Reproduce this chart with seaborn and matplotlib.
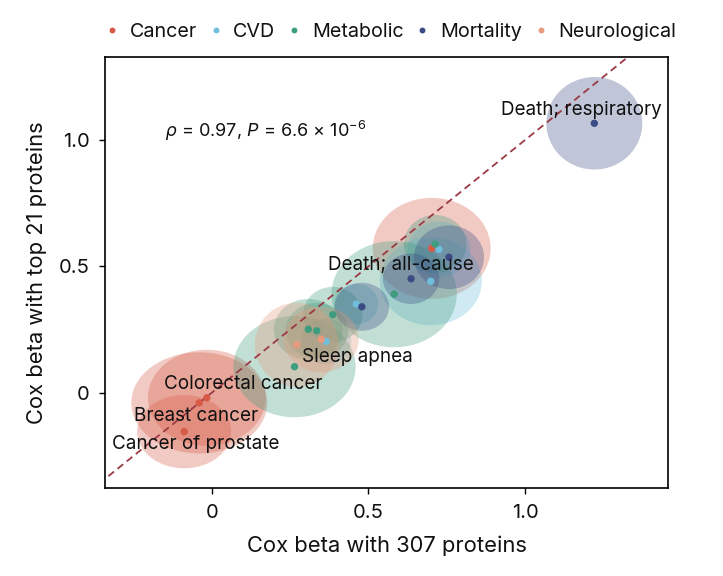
import numpy as np
import pandas as pd
import matplotlib
matplotlib.use("Agg")
import matplotlib.pyplot as plt
from matplotlib.patches import Ellipse
import seaborn as sns

# datos
categoria = ["Cancer", "Cancer", "Cancer", "Cancer",
             "CVD", "CVD", "CVD", "CVD",
             "Metabolic", "Metabolic", "Metabolic", "Metabolic", "Metabolic", "Metabolic",
             "Mortality", "Mortality", "Mortality", "Mortality",
             "Neurological", "Neurological"]
beta_307 = [-0.088, -0.040, -0.016, 0.702,
            0.461, 0.365, 0.699, 0.725,
            0.264, 0.308, 0.335, 0.386, 0.582, 0.713,
            0.479, 0.636, 0.757, 1.221,
            0.271, 0.349]
beta_21 = [-0.154, -0.040, -0.020, 0.571,
           0.351, 0.203, 0.441, 0.567,
           0.103, 0.251, 0.245, 0.309, 0.390, 0.588,
           0.340, 0.451, 0.536, 1.066,
           0.190, 0.211]
# semiejes de las burbujas (incertidumbre)
se_307 = [0.150, 0.217, 0.188, 0.188,
          0.070, 0.080, 0.163, 0.100,
          0.195, 0.110, 0.100, 0.095, 0.200, 0.100,
          0.087, 0.090, 0.112, 0.153,
          0.134, 0.120]
se_21 = [0.145, 0.200, 0.190, 0.200,
         0.080, 0.090, 0.174, 0.110,
         0.200, 0.120, 0.110, 0.110, 0.210, 0.115,
         0.095, 0.100, 0.126, 0.183,
         0.166, 0.130]

etiquetas = ["Cancer of prostate", "Breast cancer", "Colorectal cancer",
             "Sleep apnea", "Death; all-cause", "Death; respiratory"]
etiqueta_pos = [(-0.319, -0.204), (-0.247, -0.092), (-0.154, 0.033),
                (0.287, 0.142), (0.372, 0.504), (0.923, 1.119)]

grupos = ["Cancer", "CVD", "Metabolic", "Mortality", "Neurological"]
colores = ["#d65a45", "#6fbfdc", "#3e9c7f", "#3d4b85", "#e89a7c"]
paleta = dict(zip(grupos, colores))

df = pd.DataFrame({"cat": categoria, "x": beta_307, "y": beta_21,
                   "sx": se_307, "sy": se_21})

sns.set_style("ticks")
plt.rcParams["font.family"] = ["Inter", "DejaVu Sans"]
plt.rcParams["mathtext.fontset"] = "custom"
plt.rcParams["mathtext.rm"] = "Inter"
plt.rcParams["mathtext.it"] = "Inter:italic"
plt.rcParams["text.color"] = "#111111"
plt.rcParams["axes.labelcolor"] = "#111111"
plt.rcParams["xtick.color"] = "black"
plt.rcParams["ytick.color"] = "black"
plt.rcParams["xtick.labelcolor"] = "#111111"
plt.rcParams["ytick.labelcolor"] = "#111111"

fig = plt.figure(figsize=(7.23, 5.76), dpi=100)
ax = fig.add_axes([0.1456, 0.1523, 0.7787, 0.7482])

# burbujas
for _, r in df.iterrows():
    ax.add_patch(Ellipse((r["x"], r["y"]), 2 * r["sx"], 2 * r["sy"],
                         facecolor=paleta[r["cat"]], alpha=0.32,
                         edgecolor="none", zorder=1))

# diagonal
ax.plot([-0.33, 1.35], [-0.33, 1.35], ls=(0, (4, 2.5)), color="#9b3a45",
        lw=1.3, zorder=2)

sns.scatterplot(data=df, x="x", y="y", hue="cat", hue_order=grupos,
                palette=paleta, s=28, edgecolor="none", ax=ax, zorder=3)

for txt, (tx, ty) in zip(etiquetas, etiqueta_pos):
    ax.text(tx, ty, txt, fontsize=13.6, va="center", ha="left", zorder=4)

ax.text(-0.149, 1.036, r"$\it{\rho}$ = 0.97, $\it{P}$ = 6.6 × 10$^{-6}$",
        fontsize=13, va="center", ha="left")

ax.set_xlim(-0.340, 1.457)
ax.set_ylim(-0.378, 1.327)
ax.set_xticks([0, 0.5, 1.0], ["0", "0.5", "1.0"])
ax.set_yticks([0, 0.5, 1.0], ["0", "0.5", "1.0"])
ax.tick_params(labelsize=14.5, length=4, width=1, pad=7)
for s in ax.spines.values():
    s.set_visible(True)
    s.set_linewidth(1.2)
    s.set_color("black")
ax.set_xlabel("Cox beta with 307 proteins", fontsize=15.8, labelpad=10)
ax.set_ylabel("Cox beta with top 21 proteins", fontsize=15.8, labelpad=9)

sns.move_legend(ax, "lower center", bbox_to_anchor=(0.505, 1.02), ncol=5,
                title=None, frameon=False, fontsize=14.2, handletextpad=0.45,
                handlelength=0.9, columnspacing=0.5, borderaxespad=0,
                markerscale=0.8)

fig.savefig("out.png", dpi=100)
